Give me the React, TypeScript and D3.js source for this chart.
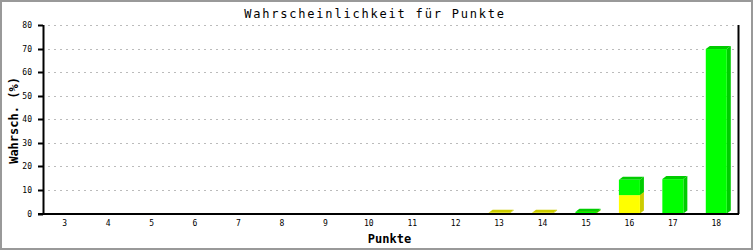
import React from "react";
import * as d3 from "d3";

const categories = ["3","4","5","6","7","8","9","10","11","12","13","14","15","16","17","18"];
const yellowValues = [0,0,0,0,0,0,0,0,0,0,0.3,0.3,0.2,7.8,0,0];
const greenValues = [0,0,0,0,0,0,0,0,0,0,0,0,0.5,6.5,14.6,69.8];
const yTicks = [0,10,20,30,40,50,60,70,80];

const W = 753, H = 250;
const left = 43, right = 738, top = 25, bottom = 213.5;

export default function App() {
  const x = d3.scaleBand().domain(categories).range([left, right]).padding(0);
  const y = d3.scaleLinear().domain([0, 80]).range([bottom, top]);
  const barW = 21;
  const dx = 4, dy = 3;
  const mono = "'DejaVu Sans Mono', 'Liberation Mono', monospace";

  const segs: { cx: number; y0: number; y1: number; face: string; shade: string }[] = [];
  categories.forEach((c, i) => {
    const cx = (x(c) as number) + x.bandwidth() / 2;
    let base = 0;
    [[yellowValues[i], "#ffff00", "#cccc00"], [greenValues[i], "#00ff00", "#00cc00"]].forEach(([v, face, shade]) => {
      const val = v as number;
      if (val > 0) {
        segs.push({ cx, y0: y(base), y1: y(base + val), face: face as string, shade: shade as string });
        base += val;
      }
    });
  });

  return (
    <svg width={W} height={H} style={{ position: "absolute", left: 0, top: 0, background: "#fff" }}>
      <rect x={1} y={1} width={W - 2} height={H - 2} fill="#fff" stroke="#999" strokeWidth={2} />
      <text x={375} y={18} textAnchor="middle" fontFamily={mono} fontSize={12} letterSpacing={1.8} fill="#000">Wahrscheinlichkeit für Punkte</text>
      {yTicks.filter(t => t > 0).map(t => (
        <line key={"g" + t} x1={left + 5} x2={right} y1={Math.round(y(t)) + 0.5} y2={Math.round(y(t)) + 0.5} stroke="#bbb" strokeDasharray="2,4" />
      ))}
      {segs.map((s, i) => {
        const x0 = s.cx - barW / 2, x1 = s.cx + barW / 2;
        return (
          <g key={i}>
            <polygon points={`${x1},${s.y0} ${x1 + dx},${s.y0 - dy} ${x1 + dx},${s.y1 - dy} ${x1},${s.y1}`} fill={s.shade} />
            <polygon points={`${x0},${s.y1} ${x0 + dx},${s.y1 - dy} ${x1 + dx},${s.y1 - dy} ${x1},${s.y1}`} fill={s.shade} />
            <rect x={x0} y={s.y1} width={barW} height={Math.max(0, s.y0 - s.y1)} fill={s.face} />
          </g>
        );
      })}
      <line x1={left + 0.5} x2={left + 0.5} y1={top} y2={bottom + 0.5} stroke="#000" strokeWidth={2} />
      <line x1={right + 0.5} x2={right + 0.5} y1={top} y2={bottom + 0.5} stroke="#000" strokeWidth={2} />
      <line x1={left - 5} x2={right + 1} y1={bottom + 0.5} y2={bottom + 0.5} stroke="#000" strokeWidth={2} />
      {yTicks.map(t => (
        <g key={"t" + t}>
          <line x1={left - 5} x2={left} y1={Math.round(y(t)) + 0.5} y2={Math.round(y(t)) + 0.5} stroke="#000" strokeWidth={2} />
          <text x={32} y={y(t) + 3} textAnchor="end" fontFamily={mono} fontSize={8} fill="#000">{t}</text>
        </g>
      ))}
      {categories.map(c => (
        <text key={"c" + c} x={(x(c) as number) + x.bandwidth() / 2} y={226} textAnchor="middle" fontFamily={mono} fontSize={8} fill="#000">{c}</text>
      ))}
      <text x={389.5} y={243} textAnchor="middle" fontFamily={mono} fontSize={12} fontWeight="bold" fill="#000">Punkte</text>
      <text transform={`translate(18,120.5) rotate(-90)`} textAnchor="middle" fontFamily={mono} fontSize={12} fontWeight="bold" fill="#000">Wahrsch. (%)</text>
    </svg>
  );
}
